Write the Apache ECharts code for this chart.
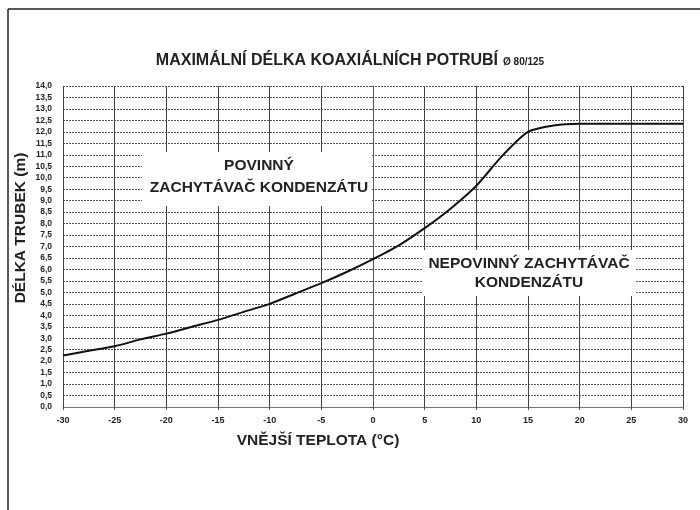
<!DOCTYPE html>
<html>
<head>
<meta charset="utf-8">
<script src="https://cdn.jsdelivr.net/npm/echarts@6/dist/echarts.min.js"></script>
<style>
  html, body { margin: 0; padding: 0; background: #fff; }
  #chart { width: 700px; height: 510px; }
</style>
</head>
<body>
<div id="chart"></div>
<script>
// Outdoor temperature (°C) and maximum coaxial pipe length (m)
const temperatures = [-30, -27.5, -25, -22.5, -20, -17.5, -15, -12.5, -10, -7.5, -5, -2.5, 0, 2.5, 5, 7.5, 10, 12.5, 15, 17.5, 20, 25, 30];
const maxLengths   = [2.25, 2.45, 2.65, 2.95, 3.2, 3.5, 3.8, 4.15, 4.5, 4.95, 5.4, 5.9, 6.45, 7.05, 7.8, 8.65, 9.65, 10.95, 12.0, 12.28, 12.35, 12.35, 12.35];

const titleMain = 'MAXIMÁLNÍ DÉLKA KOAXIÁLNÍCH POTRUBÍ';
const titleSub = 'Ø 80/125';
const xAxisName = 'VNĚJŠÍ TEPLOTA (°C)';
const yAxisName = 'DÉLKA TRUBEK (m)';
const zoneRequired = ['POVINNÝ', 'ZACHYTÁVAČ KONDENZÁTU'];
const zoneOptional = ['NEPOVINNÝ ZACHYTÁVAČ', 'KONDENZÁTU'];

const FONT = "'Liberation Sans', Arial, Helvetica, sans-serif";
const NARROW = "'Liberation Sans Narrow', 'Liberation Sans', Arial, sans-serif";

const chart = echarts.init(document.getElementById('chart'), null, { renderer: 'canvas' });

const option = {
  backgroundColor: '#ffffff',
  animation: false,
  title: {
    text: '{a|' + titleMain + '} {b|' + titleSub + '}',
    left: 'center',
    top: 47,
    textStyle: {
      rich: {
        a: { fontFamily: FONT, fontWeight: 'bold', fontSize: 16, color: '#222' },
        b: { fontFamily: FONT, fontWeight: 'bold', fontSize: 10, color: '#222', padding: [3, 0, 0, 0] }
      }
    }
  },
  grid: { left: 63, right: 17, top: 86, bottom: 103, containLabel: false },
  xAxis: {
    type: 'value',
    min: -30, max: 30, interval: 5,
    axisLine: { show: true, lineStyle: { color: '#777', width: 1 } },
    axisTick: { show: true, length: 3, lineStyle: { color: '#555' } },
    axisLabel: {
      fontFamily: NARROW, fontWeight: 'bold', fontSize: 9, color: '#222', margin: 9
    },
    splitLine: { show: true, lineStyle: { color: '#444', width: 1, type: 'solid' } }
  },
  yAxis: {
    type: 'value',
    min: 0, max: 14, interval: 0.5,
    axisLine: { show: true, lineStyle: { color: '#555', width: 1 } },
    axisTick: { show: true, length: 3, lineStyle: { color: '#555' } },
    axisLabel: {
      fontFamily: NARROW, fontWeight: 'bold', fontSize: 8.5, color: '#222', margin: 11,
      formatter: v => v.toFixed(1).replace('.', ',')
    },
    splitLine: { show: true, lineStyle: { color: '#555', width: 1, type: [2, 1] } }
  },
  series: [{
    type: 'line',
    data: temperatures.map((t, i) => [t, maxLengths[i]]),
    smooth: 0.25,
    showSymbol: false,
    lineStyle: { color: '#111', width: 2 },
    z: 5
  }],
  graphic: [
    // frame corner
    { type: 'line', shape: { x1: 8, y1: 9, x2: 700, y2: 9 }, style: { stroke: '#222', lineWidth: 1.5 } },
    { type: 'line', shape: { x1: 8, y1: 9, x2: 8, y2: 510 }, style: { stroke: '#222', lineWidth: 1.5 } },
    // axis names
    {
      type: 'text', x: 318, y: 441,
      style: { text: xAxisName, fontFamily: FONT, fontWeight: 'bold', fontSize: 15.5, fill: '#222', textAlign: 'center', textVerticalAlign: 'middle' }
    },
    {
      type: 'text', x: 21, y: 228, rotation: Math.PI / 2,
      style: { text: yAxisName, fontFamily: FONT, fontWeight: 'bold', fontSize: 15.5, fill: '#222', textAlign: 'center', textVerticalAlign: 'middle' }
    },
    // zone labels
    {
      type: 'rect', shape: { x: 142, y: 152, width: 230, height: 54 }, style: { fill: '#fff' }, z: 10
    },
    {
      type: 'text', x: 259, y: 177, z: 11,
      style: { text: zoneRequired.join('\n'), fontFamily: FONT, fontWeight: 'bold', fontSize: 15.5, lineHeight: 22, fill: '#222', textAlign: 'center', textVerticalAlign: 'middle' }
    },
    {
      type: 'rect', shape: { x: 423, y: 250, width: 212, height: 46 }, style: { fill: '#fff' }, z: 10
    },
    {
      type: 'text', x: 529, y: 273, z: 11,
      style: { text: zoneOptional.join('\n'), fontFamily: FONT, fontWeight: 'bold', fontSize: 15.5, lineHeight: 19, fill: '#222', textAlign: 'center', textVerticalAlign: 'middle' }
    }
  ]
};

chart.setOption(option);
</script>
</body>
</html>
